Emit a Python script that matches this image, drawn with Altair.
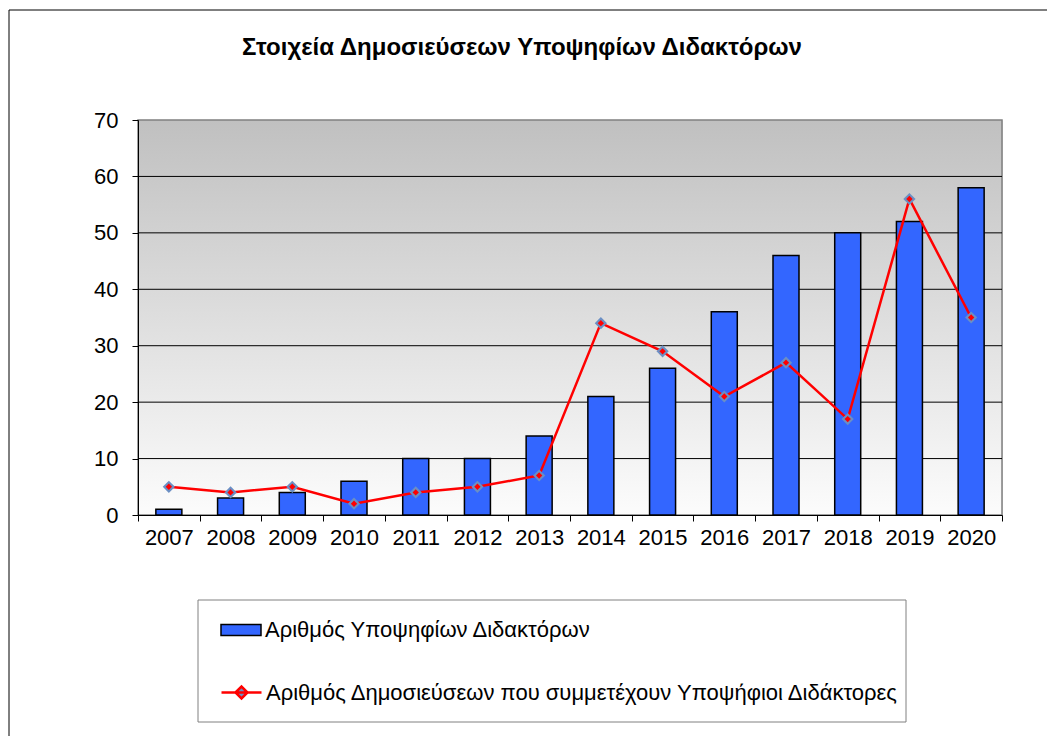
import altair as alt
import pandas as pd

years = [str(y) for y in range(2007, 2021)]
candidates = [1, 3, 4, 6, 10, 10, 14, 21, 26, 36, 46, 50, 52, 58]
publications = [5, 4, 5, 2, 4, 5, 7, 34, 29, 21, 27, 17, 56, 35]
y_ticks = [0, 10, 20, 30, 40, 50, 60, 70]
grid_vals = [10, 20, 30, 40, 50, 60]

title = "Στοιχεία Δημοσιεύσεων Υποψηφίων Διδακτόρων"
lab_bar = "Αριθμός Υποψηφίων Διδακτόρων"
lab_line = "Αριθμός Δημοσιεύσεων που συμμετέχουν Υποψήφιοι Διδάκτορες"

FONT = "Liberation Sans"
W, H = 864, 395

df = pd.DataFrame({"year": years, "cand": candidates, "pub": publications,
                   "s1": lab_bar, "s2": lab_line})
grid_df = pd.DataFrame({"v": grid_vals})

xenc = alt.X("year:O", title=None,
             scale=alt.Scale(paddingInner=0, paddingOuter=0),
             axis=alt.Axis(labelAngle=0, labelFont=FONT, labelFontSize=22, labelColor="black",
                           domainColor="black", tickColor="black", tickSize=6,
                           tickBand="extent", labelPadding=6, zindex=1))
yscale = alt.Scale(domain=[0, 70], nice=False)
yaxis = alt.Axis(values=y_ticks, grid=False, labelFont=FONT, labelFontSize=22,
                 labelColor="black", domainColor="black", tickColor="black",
                 tickSize=6, labelPadding=14, zindex=1)

one = alt.Data(values=[{}])

frame = alt.Chart(one).mark_rect(fillOpacity=0, stroke="black", strokeWidth=1).encode(
    x=alt.value(-129), x2=alt.value(W + 80), y=alt.value(-110), y2=alt.value(H + 300))

bg = alt.Chart(one).mark_rect(
    color=alt.Gradient(gradient="linear",
                       stops=[alt.GradientStop(color="#c0c0c0", offset=0),
                              alt.GradientStop(color="#fcfcfc", offset=1)],
                       x1=0, x2=0, y1=0, y2=1),
    stroke="#808080", strokeWidth=1.5).encode(
    x=alt.value(0), x2=alt.value(W), y=alt.value(0), y2=alt.value(H))

legbox = alt.Chart(one).mark_rect(fillOpacity=0, stroke="#808080", strokeWidth=1).encode(
    x=alt.value(60), x2=alt.value(768), y=alt.value(480), y2=alt.value(602))

grid = alt.Chart(grid_df).mark_rule(color="black", strokeWidth=1).encode(
    y=alt.Y("v:Q", scale=yscale, title=None, axis=yaxis))

bars = alt.Chart(df).mark_bar(width=26, stroke="black", strokeWidth=1.5).encode(
    x=xenc,
    y=alt.Y("cand:Q", scale=yscale, title=None, axis=yaxis),
    fill=alt.Fill("s1:N", title=None,
                  scale=alt.Scale(domain=[lab_bar], range=["#3366ff"]),
                  legend=alt.Legend(orient="none", legendX=82, legendY=489,
                                    symbolType="M-1,-0.28H1V0.28H-1Z", symbolSize=1600,
                                    symbolStrokeColor="black", symbolStrokeWidth=1.5,
                                    labelFont=FONT, labelFontSize=22, labelColor="black",
                                    labelOffset=3, labelLimit=1000, padding=0)),
)

line = alt.Chart(df).mark_line(strokeWidth=2.5).encode(
    x=alt.X("year:O"),
    y=alt.Y("pub:Q", scale=yscale),
    stroke=alt.Stroke("s2:N", title=None,
                      scale=alt.Scale(domain=[lab_line], range=["#ff0000"]),
                      legend=alt.Legend(orient="none", legendX=82, legendY=551,
                                        symbolType="M-1,0H1M-0.3,0L0,-0.3L0.3,0L0,0.3Z",
                                        symbolSize=1600, symbolStrokeWidth=2.5,
                                        symbolFillColor="#6b8fc4",
                                        labelFont=FONT, labelFontSize=22, labelColor="black",
                                        labelOffset=3, labelLimit=1000, padding=0)),
)

pts_outer = alt.Chart(df).mark_point(shape="diamond", filled=True, size=150,
                                     color="#6b8fc4", opacity=1).encode(
    x=alt.X("year:O"), y=alt.Y("pub:Q", scale=yscale))
pts_inner = alt.Chart(df).mark_point(shape="diamond", filled=True, size=40,
                                     color="#ff0000", opacity=1).encode(
    x=alt.X("year:O"), y=alt.Y("pub:Q", scale=yscale))

chart = alt.layer(frame, bg, legbox, grid, bars, line, pts_outer, pts_inner).resolve_scale(
    fill="independent", stroke="independent"
).properties(
    width=W, height=H,
    title=alt.TitleParams(title, font=FONT, fontSize=24, fontWeight="bold", color="black",
                          anchor="middle", dx=-48, offset=-50),
    autosize=alt.AutoSizeParams(type="none"),
    padding={"left": 130, "top": 112, "right": 45, "bottom": 221},
).configure_view(stroke=None).configure(background="white")

chart.save("out.html", embed_options={"renderer": "svg", "actions": False})
